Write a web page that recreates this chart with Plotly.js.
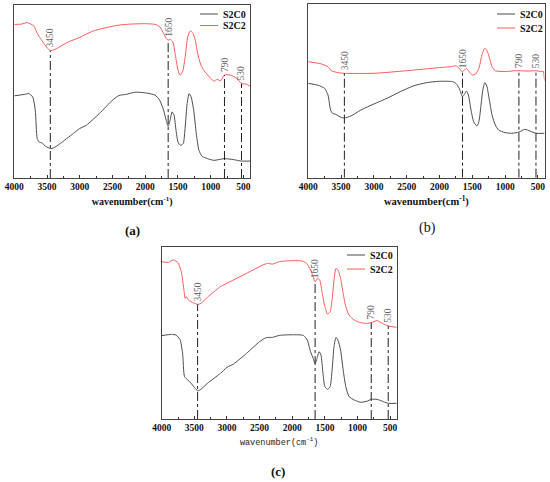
<!DOCTYPE html>
<html><head><meta charset="utf-8">
<script src="https://cdn.plot.ly/plotly-3.0.1.min.js"></script>
<style>html,body{margin:0;padding:0;background:#fff}#chart{width:550px;height:482px}</style>
</head><body><div id="chart"></div>
<script>
// ---------- data (arbitrary transmittance units) ----------
const seriesNames = ['S2C0', 'S2C2'];
const peakPositions = [3450, 1650, 790, 530];
const tickValues = [4000, 3500, 3000, 2500, 2000, 1500, 1000, 500];
const panelLabels = ['(a)', '(b)', '(c)'];

// panel (a)
const aWaveS2C0 = [4000,3850,3780,3720,3680,3650,3620,3580,3520,3450,3400,3300,3100,3000,2900,2700,2500,2400,2300,2150,2000,1850,1780,1720,1680,1650,1620,1590,1560,1530,1500,1460,1420,1390,1360,1330,1300,1260,1220,1180,1130,1050,950,790,650,530,400];
const aS2C0 = [47.5,48.3,48.8,46.9,39.2,22.8,20.8,20.3,18.3,17,17.4,19.9,25.7,28.6,30.5,37.3,45,47.7,48.3,49.6,49.2,47.9,45,39.2,33.4,29.9,33.4,38.2,36.3,27.6,20.8,18.9,19.9,29.5,43,48.8,46.9,39.2,25.7,16,12.5,11.2,10.2,11.2,10.6,9.8,9.8];
const aWaveS2C2 = [4000,3900,3800,3700,3650,3600,3550,3450,3350,3200,3000,2800,2600,2400,2200,2000,1850,1780,1720,1680,1650,1620,1580,1540,1500,1470,1430,1390,1350,1310,1270,1230,1200,1150,1100,1000,950,900,850,790,700,600,530,450,400];
const aS2C2 = [88.8,88.9,89.8,87.8,83.6,80.7,77.8,73.6,74.9,78.2,81.3,84.9,86.9,88.4,89,89.2,88.8,87.5,83.6,80.7,79.7,80.1,78.8,71,62.4,59.5,61.4,70,81.7,85.1,83.6,78.8,72,65.3,62,57.5,56,57,56.2,59.5,59.5,57.5,54.6,54.2,53];

// panel (b)
const bWaveS2C0 = [4000,3850,3750,3700,3660,3630,3580,3500,3450,3350,3200,3000,2800,2600,2400,2200,2000,1800,1750,1700,1650,1620,1590,1560,1520,1480,1430,1400,1370,1340,1310,1280,1240,1200,1150,1100,1000,900,790,700,620,530,400];
const bS2C0 = [54.4,53.3,51.5,47.7,39,37.1,36.5,34.8,34.4,35.6,39,42.5,45.8,49.6,52.9,54.8,55.6,55.4,54.4,51.5,46.7,48.1,50,47.7,39,32.3,29.8,32.3,41,50.6,54.8,52.9,44.8,36.2,30.4,27.5,26,25.6,26.3,27.9,26.9,25.6,25.6];
const bWaveS2C2 = [4000,3800,3700,3650,3550,3450,3000,2500,2000,1800,1750,1700,1660,1620,1590,1550,1500,1450,1400,1360,1320,1300,1270,1230,1200,1150,1000,850,790,650,530,450,420,400];
const bS2C2 = [66.9,65.6,64,61.7,60.6,60.2,60.2,61.7,63.5,64.2,64.6,63.1,61.2,62.1,63.1,61.2,59.2,59.8,63.1,69.8,74.2,74.6,72.7,67.9,64,61.7,61.2,61.7,61.7,61.5,61.7,61.2,61.5,56];

// panel (c)
const cWaveS2C0 = [4000,3850,3780,3720,3680,3650,3600,3550,3450,3400,3300,3100,3000,2900,2700,2500,2400,2300,2200,2000,1830,1770,1720,1680,1650,1620,1590,1560,1530,1500,1460,1420,1390,1360,1330,1300,1260,1220,1180,1130,1050,950,850,790,700,600,530,400];
const cS2C0 = [48.4,49.1,48.7,46.2,38.1,24.6,22.6,20.7,16.4,17.2,20.7,26.5,30,31.9,38.1,44.9,47.2,47.4,48.5,48.9,48.5,45.8,39.1,35.2,32.3,35.2,39.1,37.1,26.5,18.8,17.2,18.8,28.4,42,47.4,45.8,40,28.4,18.8,13,11,9.7,10.4,11.4,11.4,10,9.1,9.1];
const cWaveS2C2 = [4000,3900,3820,3750,3700,3680,3660,3640,3620,3600,3550,3450,3400,3300,3100,2950,2800,2600,2450,2380,2300,2200,2000,1850,1780,1720,1680,1650,1610,1580,1540,1500,1460,1420,1390,1360,1330,1300,1260,1220,1180,1130,1050,950,850,790,700,620,530,400];
const cS2C2 = [91.3,90.9,92.3,90.7,85.5,80.7,75.2,70,71,69.4,68.1,66.5,67.1,70.6,76.8,79.7,82.6,86.5,89.4,90.3,89.9,91.3,91.9,91.7,90.3,86.5,82.6,79.7,81.6,80.7,72.9,65.2,60.9,62.3,69.1,80.7,87.4,86.5,81.6,72.9,65.2,60.3,57.4,55.9,55.5,55.9,57.1,55.5,54,53.2];

// ---------- styling ----------
const colorS2C0 = '#4d4d4d';
const colorS2C2 = '#ff5a5a';
const serif = 'Liberation Serif, Times New Roman, serif';
const W = 550, H = 482;

function interp(xs, ys, x) {
  for (let i = 0; i < xs.length - 1; i++) {
    const x0 = xs[i], x1 = xs[i + 1];
    if ((x <= x0 && x >= x1) || (x >= x0 && x <= x1)) {
      const t = (x - x0) / (x1 - x0);
      return ys[i] + t * (ys[i + 1] - ys[i]);
    }
  }
  return ys[ys.length - 1];
}

const panels = [
  {sfx: '',  w0: aWaveS2C0, y0: aS2C0, w2: aWaveS2C2, y2: aS2C2,
   xd: [14.3/W, 250/W], yd: [1-178/H, 1-5/H],
   leg: {x0: 200, x1: 218, tx: 221, rows: [14, 25.5]},
   lab: {x: 132, y: 230, font: {family: serif, size: 13, weight: 'bold', color: '#111'}},
   titleFont: {family: serif, size: 10, weight: 'bold', color: '#111'}},
  {sfx: '2', w0: bWaveS2C0, y0: bS2C0, w2: bWaveS2C2, y2: bS2C2,
   xd: [308.3/W, 544.5/W], yd: [1-177.7/H, 1-4.3/H],
   leg: {x0: 497, x1: 515, tx: 518, rows: [14, 28]},
   lab: {x: 427, y: 228, font: {family: serif, size: 14, color: '#111'}},
   titleFont: {family: serif, size: 10.5, weight: 'bold', color: '#111'}},
  {sfx: '3', w0: cWaveS2C0, y0: cS2C0, w2: cWaveS2C2, y2: cS2C2,
   xd: [161.7/W, 396.7/W], yd: [1-419/H, 1-246.7/H],
   leg: {x0: 347, x1: 365, tx: 368, rows: [255, 269]},
   lab: {x: 278, y: 471, font: {family: serif, size: 13, weight: 'bold', color: '#111'}},
   titleFont: {family: 'Liberation Mono, monospace', size: 8.5, color: '#222'}}
];

const traces = [];
const shapes = [];
const annotations = [];
const layout = {
  width: W, height: H,
  margin: {l: 0, r: 0, t: 0, b: 0},
  paper_bgcolor: '#fff', plot_bgcolor: '#fff',
  showlegend: false
};

panels.forEach((p, i) => {
  const xa = 'x' + p.sfx, ya = 'y' + p.sfx;
  const data = [[p.w0, p.y0, colorS2C0], [p.w2, p.y2, colorS2C2]];
  data.forEach((d, k) => {
    traces.push({x: d[0], y: d[1], name: seriesNames[k], type: 'scatter', mode: 'lines',
      line: {color: d[2], width: 1, shape: 'spline', smoothing: 0.6},
      xaxis: xa, yaxis: ya, showlegend: false});
    // legend key (drawn in paper space)
    const ly = 1 - p.leg.rows[k] / H;
    shapes.push({type: 'line', xref: 'paper', yref: 'paper',
      x0: p.leg.x0 / W, x1: p.leg.x1 / W, y0: ly, y1: ly,
      line: {color: d[2], width: 1}});
    annotations.push({xref: 'paper', yref: 'paper', x: p.leg.tx / W, y: ly,
      text: seriesNames[k], showarrow: false, xanchor: 'left', yanchor: 'middle',
      font: {family: serif, size: 10, weight: 'bold', color: '#111'}});
  });

  layout['xaxis' + p.sfx] = {
    domain: p.xd, anchor: ya, range: [4000, 400],
    tickmode: 'array', tickvals: tickValues, ticktext: tickValues.map(String),
    ticks: 'inside', ticklen: 3, tickwidth: 1, tickcolor: '#333',
    minor: {ticks: 'inside', dtick: 250, ticklen: 2, tickcolor: '#333', showgrid: false},
    showline: true, mirror: true, linecolor: '#444', linewidth: 1,
    showgrid: false, zeroline: false,
    tickfont: {family: serif, size: 9.5, weight: 'bold', color: '#111'},
    title: {text: 'wavenumber(cm<sup>-1</sup>)', font: p.titleFont, standoff: 6}
  };
  layout['yaxis' + p.sfx] = {
    domain: p.yd, anchor: xa, range: [0, 100],
    showticklabels: false, ticks: '', showline: true, mirror: true,
    linecolor: '#444', linewidth: 1, showgrid: false, zeroline: false
  };

  peakPositions.forEach(pk => {
    const top = interp(p.w2, p.y2, pk);
    shapes.push({type: 'line', xref: xa, yref: ya, x0: pk, x1: pk, y0: 0, y1: top,
      line: {color: '#222', width: 1, dash: 'dashdot'}});
    annotations.push({xref: xa, yref: ya, x: pk, y: top, text: String(pk),
      textangle: -90, showarrow: false, xanchor: 'center', yanchor: 'bottom', yshift: 1,
      font: {family: serif, size: 9.5, color: '#666'}});
  });

  annotations.push({xref: 'paper', yref: 'paper', x: p.lab.x / W, y: 1 - p.lab.y / H,
    text: panelLabels[i], showarrow: false, xanchor: 'center', yanchor: 'middle',
    font: p.lab.font});
});

layout.shapes = shapes;
layout.annotations = annotations;

Plotly.newPlot('chart', traces, layout, {displayModeBar: false, staticPlot: true});
</script>
</body></html>
